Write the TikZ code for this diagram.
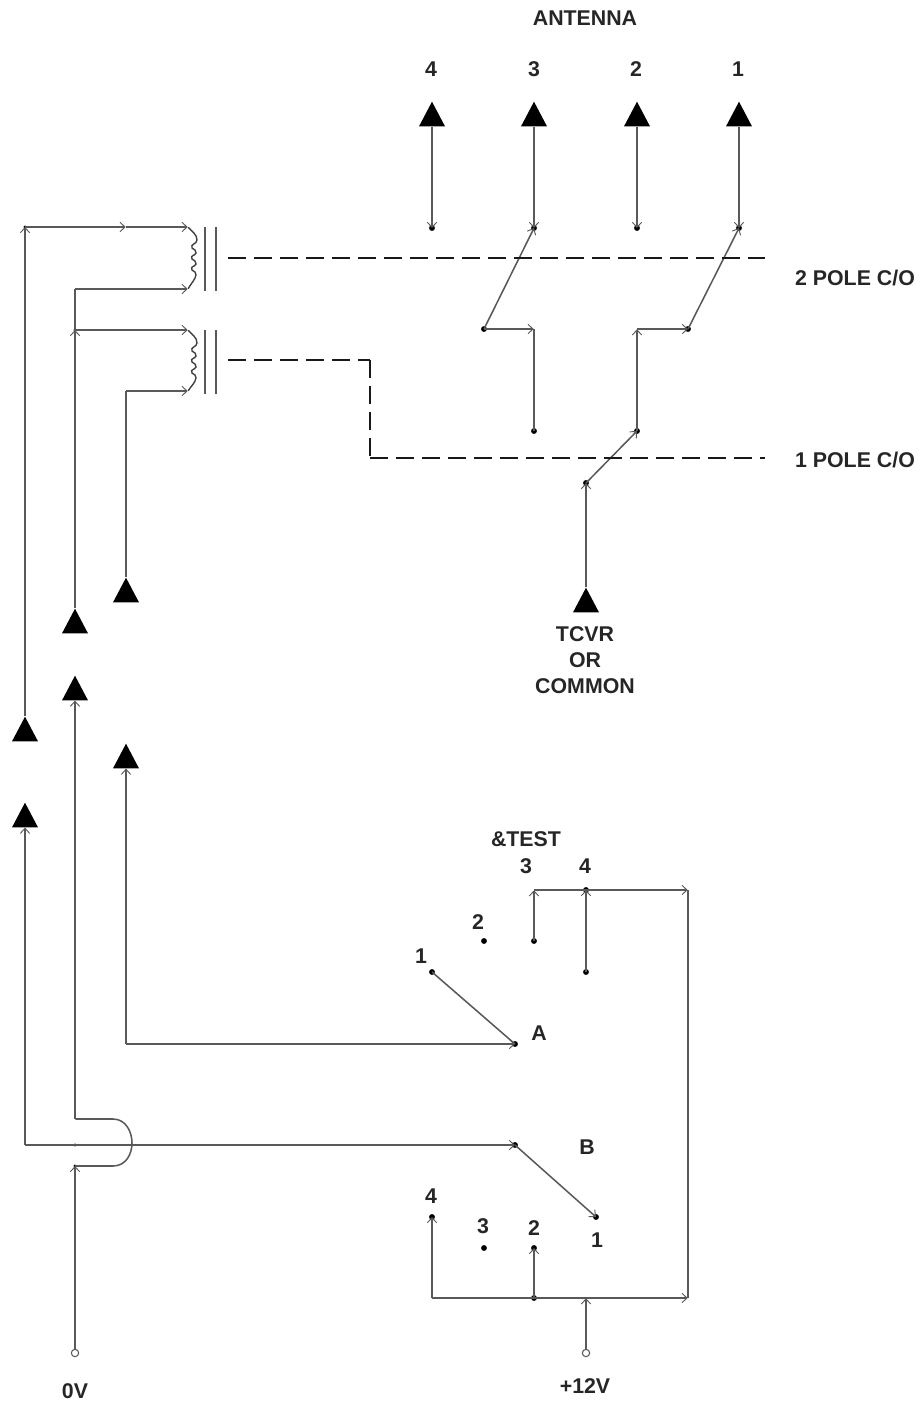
\documentclass[tikz,border=0pt]{standalone}
\usepackage{fontspec}
\setmainfont{Liberation Sans}
\usetikzlibrary{arrows.meta,shapes.geometric}
\tikzset{
  x=0.75pt,y=-0.75pt,
  wire/.style={draw=black!65,line width=1.15pt},
  tipw/.style={wire,-{Straight Barb[length=3.8pt,width=7pt,line width=.7pt]}},
  dashw/.style={draw=black!90,line width=1.15pt,dash pattern=on 13.5pt off 6pt},
  dotn/.style={circle,fill=black,inner sep=0pt,minimum size=4.4pt},
  minidot/.style={circle,fill=black,inner sep=0pt,minimum size=2.6pt},
  opn/.style={circle,draw=black!65,fill=white,line width=.8pt,inner sep=0pt,minimum size=5.5pt},
  pt/.style={inner sep=0pt,minimum size=0pt},
  tri/.style={isosceles triangle,isosceles triangle stretches,shape border rotate=90,fill=black,inner sep=0pt,
    minimum height=18.5pt,minimum width=19.5pt,anchor=apex},
  lab/.style={font=\bfseries\fontsize{16}{18.5}\selectfont,text=black!85,inner sep=0pt,align=center},
  core/.style={draw=black!65,line width=1.15pt},
  coil/.style={draw=black!75,line width=1.05pt},
}
\begin{document}
\begin{tikzpicture}
\useasboundingbox (0,0) rectangle (920,1403);
% triangles
\node[tri] (a4) at (432,101) {};
\node[tri] (a3) at (534,101) {};
\node[tri] (a2) at (637,101) {};
\node[tri] (a1) at (739,101) {};
\node[tri] (c2) at (126,577) {};
\node[tri] (c1) at (75,608) {};
\node[tri] (b1) at (75,675) {};
\node[tri] (c0) at (25,716) {};
\node[tri] (b0) at (25,802) {};
\node[tri] (b2) at (126,743) {};
\node[tri] (tc) at (586,587) {};
% antenna contacts
\node[dotn] (d4) at (432,228) {};
\node[dotn] (d3) at (534,228) {};
\node[dotn] (d2) at (637,228) {};
\node[dotn] (d1) at (739,228) {};
\node[dotn] (m3) at (484,329) {};
\node[dotn] (m1) at (688,329) {};
\node[dotn] (n3) at (534,431) {};
\node[dotn] (n1) at (637,431) {};
\node[dotn] (com) at (586,483) {};
\node[pt] (k3) at (534,329) {};
\node[pt] (k1) at (637,329) {};
\draw[tipw] (a4.south) -- (d4.center);
\draw[tipw] (a3.south) -- (d3.center);
\draw[tipw] (a2.south) -- (d2.center);
\draw[tipw] (a1.south) -- (d1.center);
\draw[tipw] (m3.center) -- (d3.center);
\draw[tipw] (m1.center) -- (d1.center);
\draw[tipw] (m3.center) -- (k3);
\draw[wire] (n3.center) -- (k3);
\draw[tipw] (n1.center) -- (k1);
\draw[tipw] (k1) -- (m1.center);
\draw[tipw] (com.center) -- (n1.center);
\draw[tipw] (tc.apex) -- (com.center);
% coils
\node[pt] (t1) at (188,227) {};
\node[pt] (t2) at (188,289) {};
\node[pt] (t3) at (188,330) {};
\node[pt] (t4) at (188,391) {};
\draw[coil] (t1) .. controls (192,232) and (197,234) .. (197,240)
  .. controls (197,244) and (190,244) .. (192,248) .. controls (194,250) and (197,250) .. (196,253)
  .. controls (195,256) and (190,255) .. (192,259) .. controls (194,261) and (197,261) .. (196,264)
  .. controls (195,267) and (190,266) .. (192,270) .. controls (194,272) and (197,272) .. (196,275)
  .. controls (195,280) and (192,282) .. (t2);
\draw[coil] (t3) .. controls (192,335) and (197,337) .. (197,343)
  .. controls (197,347) and (190,347) .. (192,351) .. controls (194,353) and (197,353) .. (196,356)
  .. controls (195,359) and (190,358) .. (192,362) .. controls (194,364) and (197,364) .. (196,367)
  .. controls (195,370) and (190,369) .. (192,373) .. controls (194,375) and (197,375) .. (196,378)
  .. controls (195,383) and (192,385) .. (t4);
\node[pt] (p1a) at (205,227) {}; \node[pt] (p1b) at (205,291) {};
\node[pt] (p2a) at (216,227) {}; \node[pt] (p2b) at (216,291) {};
\node[pt] (p3a) at (205,330) {}; \node[pt] (p3b) at (205,394) {};
\node[pt] (p4a) at (216,330) {}; \node[pt] (p4b) at (216,394) {};
\draw[core] (p1a) -- (p1b);
\draw[core] (p2a) -- (p2b);
\draw[core] (p3a) -- (p3b);
\draw[core] (p4a) -- (p4b);
% coil wiring
\node[minidot] (w1) at (25,227) {};
\node[pt] (w1m) at (126,227) {};
\node[pt] (w2) at (75,289) {};
\node[minidot] (w3) at (75,330) {};
\node[pt] (w4) at (126,391) {};
\draw[tipw] (c0.apex) -- (w1.center);
\draw[tipw] (w1.center) -- (w1m);
\draw[tipw] (w1m) -- (t1);
\draw[wire] (c1.apex) -- (w2);
\draw[tipw] (w2) -- (t2);
\draw[tipw] (c1.apex) -- (w3.center);
\draw[tipw] (w3.center) -- (t3);
\draw[wire] (c2.apex) -- (w4);
\draw[tipw] (w4) -- (t4);
% dashed links
\node[pt] (e1) at (228,258) {};
\node[pt] (e2) at (765,258) {};
\node[pt] (f1) at (228,360) {};
\node[pt] (f2) at (370,360) {};
\node[pt] (f3) at (370,458) {};
\node[pt] (f4) at (765,458) {};
\draw[dashw] (e1) -- (e2);
\draw[dashw] (f1) -- (f2) -- (f3) -- (f4);
% selector A
\node[dotn] (A) at (515,1044) {};
\node[dotn] (A1) at (432,972) {};
\node[dotn] (A2) at (484,941) {};
\node[dotn] (A3) at (534,941) {};
\node[dotn] (A4) at (586,972) {};
\node[dotn] (A5) at (586,890) {};
\node[pt] (k5) at (534,890) {};
\node[pt] (k6) at (688,890) {};
\node[pt] (k7) at (126,1044) {};
\draw[wire] (A1.center) -- (A.center);
\draw[tipw] (k7) -- (A.center);
\draw[tipw] (k7) -- (b2.south);
\draw[tipw] (A3.center) -- (k5);
\draw[tipw] (A4.center) -- (A5.center);
\draw[wire] (k5) -- (A5.center);
\draw[tipw] (A5.center) -- (k6);
% selector B
\node[dotn] (B) at (515,1145) {};
\node[dotn] (B1) at (596,1217) {};
\node[dotn] (B4) at (432,1217) {};
\node[dotn] (B3) at (484,1248) {};
\node[dotn] (B2) at (534,1248) {};
\node[dotn] (J) at (534,1298) {};
\node[pt] (k8) at (432,1298) {};
\node[pt] (k9) at (688,1298) {};
\node[pt] (k10) at (586,1298) {};
\node[opn] (V12) at (586,1353) {};
\node[opn] (V0) at (75,1353) {};
\draw[tipw] (B.center) -- (B1.center);
\draw[tipw] (k8) -- (B4.center);
\draw[tipw] (J.center) -- (B2.center);
\draw[wire] (k8) -- (J.center);
\draw[tipw] (J.center) -- (k9);
\draw[tipw] (V12) -- (k10);
\draw[wire] (k6) -- (k9);
% crossover
\node[pt] (h1) at (25,1145) {};
\node[pt] (h2) at (75,1119) {};
\node[minidot] (h3) at (75,1166) {};
\node[minidot] (h4) at (75,1145) {};
\draw[tipw] (h1) -- (b0.south);
\draw[tipw] (h1) -- (B.center);
\draw[tipw] (h2) -- (b1.south);
\draw[wire] (h2) -- (113,1119) .. controls (126,1119) and (132,1132) .. (132,1143) .. controls (132,1154) and (126,1166) .. (113,1166) -- (h3.center);
\draw[tipw] (V0) -- (h3.center);
% labels
\node[lab] (L0) at (585,18) {ANTENNA};
\node[lab] (L1) at (431,69) {4};
\node[lab] (L2) at (534,69) {3};
\node[lab] (L3) at (636,69) {2};
\node[lab] (L4) at (738,69) {1};
\node[lab] (L5) at (855,278) {2 POLE C/O};
\node[lab] (L6) at (855,460) {1 POLE C/O};
\node[lab] (L7) at (585,660) {TCVR\\[1pt]OR\\[1pt]COMMON};
\node[lab] (L8) at (526,839) {\&TEST};
\node[lab] (L9) at (526,866) {3};
\node[lab] (L10) at (585,866) {4};
\node[lab] (L11) at (478,922) {2};
\node[lab] (L12) at (421,956) {1};
\node[lab] (L13) at (539,1033) {A};
\node[lab] (L14) at (587,1147) {B};
\node[lab] (L15) at (431,1196) {4};
\node[lab] (L16) at (483,1226) {3};
\node[lab] (L17) at (534,1228) {2};
\node[lab] (L18) at (597,1240) {1};
\node[lab] (L19) at (585,1386) {+12V};
\node[lab] (L20) at (75,1391) {0V};
\end{tikzpicture}
\end{document}
